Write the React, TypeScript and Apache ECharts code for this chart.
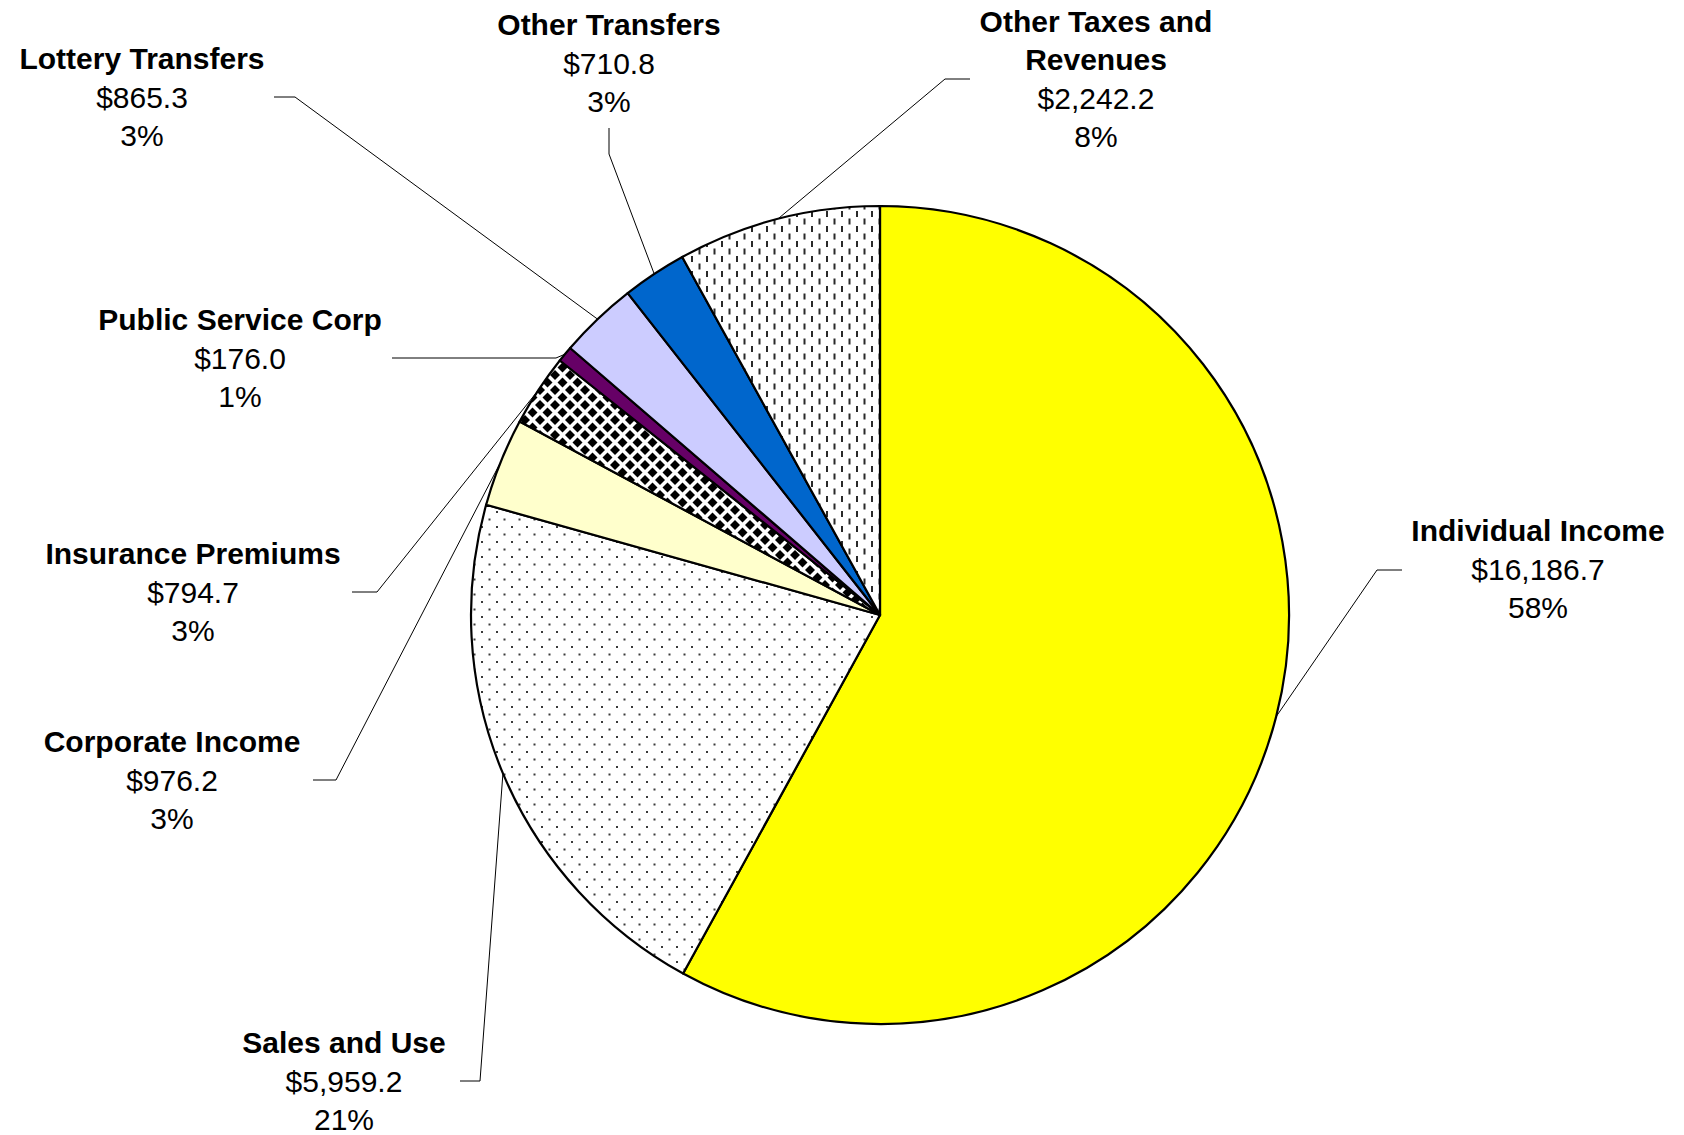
import { useEffect, useRef } from 'react';
import * as echarts from 'echarts';

// ---- data ----
const categories = [
  'Individual Income',
  'Sales and Use',
  'Corporate Income',
  'Insurance Premiums',
  'Public Service Corp',
  'Lottery Transfers',
  'Other Transfers',
  'Other Taxes and Revenues',
];
const labelNames = [
  'Individual Income',
  'Sales and Use',
  'Corporate Income',
  'Insurance Premiums',
  'Public Service Corp',
  'Lottery Transfers',
  'Other Transfers',
  'Other Taxes and\nRevenues',
];
const values = [16186.7, 5959.2, 976.2, 794.7, 176.0, 865.3, 710.8, 2242.2];
const fills = ['#FFFF00', 'dots', '#FFFFCC', 'diamonds', '#660066', '#CCCCFF', '#0066CC', 'dashes'];

// ---- layout (positions of labels / leader lines) ----
const CX = 880;
const CY = 615;
const R = 409;
const labelLayouts = [
  { x: 1538, y: 569, elbow: [1377, 570], end: [1402, 570] },
  { x: 344, y: 1081, elbow: [480, 1081], end: [460, 1081] },
  { x: 172, y: 780, elbow: [336, 780], end: [313, 780] },
  { x: 193, y: 592, elbow: [377, 592], end: [352, 592] },
  { x: 240, y: 358, elbow: [556, 358], end: [392, 358] },
  { x: 142, y: 97, elbow: [295, 97], end: [274, 97] },
  { x: 609, y: 63, elbow: [609, 154], end: [609, 128] },
  { x: 1096, y: 79, elbow: [945, 79], end: [970, 79] },
];

function makePattern(kind: string) {
  const size = 15;
  const c = document.createElement('canvas');
  c.width = size;
  c.height = size;
  const ctx = c.getContext('2d')!;
  ctx.fillStyle = '#ffffff';
  ctx.fillRect(0, 0, size, size);
  if (kind === 'dots') {
    ctx.fillStyle = '#3a3a3a';
    ctx.fillRect(1, 1, 2, 2);
    ctx.fillRect(8.5, 8.5, 2, 2);
  } else if (kind === 'dashes') {
    ctx.fillStyle = '#2a2a2a';
    ctx.fillRect(1, 1, 2, 6);
    ctx.fillRect(8.5, 8.5, 2, 6);
  } else if (kind === 'diamonds') {
    ctx.fillStyle = '#000000';
    const h = 5;
    const centers = [
      [0, 0], [size, 0], [0, size], [size, size], [size / 2, size / 2],
    ];
    centers.forEach(([x, y]) => {
      ctx.beginPath();
      ctx.moveTo(x, y - h);
      ctx.lineTo(x + h, y);
      ctx.lineTo(x, y + h);
      ctx.lineTo(x - h, y);
      ctx.closePath();
      ctx.fill();
    });
  }
  return {
    image: c,
    repeat: 'repeat',
    imageWidth: size,
    imageHeight: size,
  } as any;
}

const total = values.reduce((a, b) => a + b, 0);

function fmtMoney(v: number) {
  return (
    '$' +
    v.toLocaleString('en-US', { minimumFractionDigits: 1, maximumFractionDigits: 1 })
  );
}

function edgePoint(i: number) {
  let cum = 0;
  for (let k = 0; k < i; k++) cum += values[k];
  const frac = (cum + values[i] / 2) / total;
  const a = Math.PI / 2 - frac * Math.PI * 2;
  return [CX + R * Math.cos(a), CY - R * Math.sin(a)];
}

export default function App() {
  const ref = useRef<HTMLDivElement>(null);
  useEffect(() => {
    document.body.style.margin = '0';
    if (!ref.current) return;
    const chart = echarts.init(ref.current, undefined, { renderer: 'svg' });
    const font = '"Liberation Sans", Arial, Helvetica, sans-serif';
    const data = categories.map((name, i) => ({
      name,
      value: values[i],
      itemStyle: {
        color: fills[i].startsWith('#') ? fills[i] : makePattern(fills[i]),
      },
    }));
    chart.setOption({
      animation: false,
      backgroundColor: '#ffffff',
      series: [
        {
          type: 'pie',
          center: [CX, CY],
          radius: R,
          startAngle: 90,
          clockwise: true,
          avoidLabelOverlap: false,
          data,
          itemStyle: { borderColor: '#000000', borderWidth: 2.2 },
          emphasis: { disabled: true },
          label: {
            show: true,
            position: 'outside',
            color: '#000000',
            fontFamily: font,
            fontSize: 30,
            lineHeight: 38.5,
            formatter: (p: any) => {
              const i = p.dataIndex;
              const nameLines = labelNames[i]
                .split('\n')
                .map((s) => `{n|${s}}`)
                .join('\n');
              const pct = Math.round((values[i] / total) * 100);
              return `${nameLines}\n{v|${fmtMoney(values[i])}}\n{v|${pct}%}`;
            },
            rich: {
              n: {
                fontFamily: font,
                fontWeight: 'bold',
                fontSize: 30,
                lineHeight: 38.5,
                color: '#000000',
                align: 'center',
              },
              v: {
                fontFamily: font,
                fontWeight: 'normal',
                fontSize: 30,
                lineHeight: 38.5,
                color: '#000000',
                align: 'center',
              },
            },
          },
          labelLine: {
            show: true,
            lineStyle: { color: '#000000', width: 1 },
          },
          labelLayout: (params: any) => {
            const i = params.dataIndex;
            const L = labelLayouts[i];
            const pts = params.labelLinePoints;
            const edge = pts && pts[0] ? pts[0] : edgePoint(i);
            return {
              x: L.x,
              y: L.y,
              align: 'center',
              verticalAlign: 'middle',
              labelLinePoints: [edge, L.elbow, L.end],
            };
          },
        },
      ],
    });
    return () => chart.dispose();
  }, []);
  return <div ref={ref} style={{ width: 1684, height: 1135 }} />;
}
